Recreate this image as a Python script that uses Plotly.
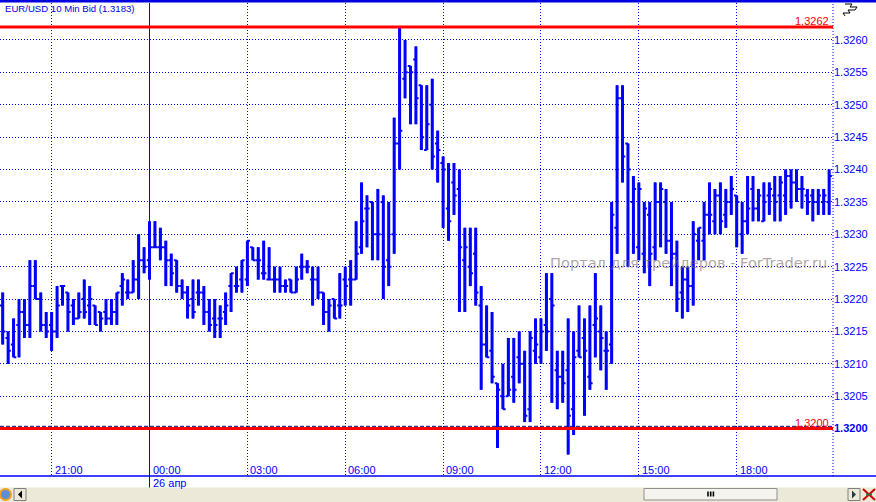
import plotly.graph_objects as go
import pandas as pd

# ---------------- data ----------------
title_text = "EUR/USD 10 Min Bid (1.3183)"
start_time = "2012-04-25 19:30"
bar_minutes = 10

opens = [1.3219,1.3214,1.3213,1.3216,1.3218,1.3216,1.3222,1.3220,1.3216,1.3216,
         1.3215,1.3222,1.3221,1.3219,1.3217,1.3220,1.3219,1.3219,1.3218,1.3218,
         1.3217,1.3218,1.3222,1.3221,1.3221,1.3223,1.3226,1.3226,1.3228,1.3228,
         1.3228,1.3226,1.3226,1.3222,1.3221,1.3220,1.3221,1.3221,1.3218,1.3217,
         1.3217,1.3218,1.3222,1.3222,1.3223,1.3223,1.3228,1.3226,1.3224,1.3223,
         1.3223,1.3223,1.3222,1.3223,1.3221,1.3225,1.3225,1.3223,1.3223,1.3221,
         1.3218,1.3220,1.3219,1.3223,1.3223,1.3223,1.3228,1.3234,1.3235,1.3230,
         1.3235,1.3226,1.3230,1.3244,1.3254,1.3256,1.3257,1.3253,1.3243,1.3250,
         1.3244,1.3241,1.3234,1.3238,1.3237,1.3226,1.3225,1.3227,1.3219,1.3213,
         1.3212,1.3207,1.3205,1.3205,1.3208,1.3211,1.3210,1.3203,1.3212,1.3211,
         1.3216,1.3220,1.3209,1.3208,1.3209,1.3203,1.3212,1.3214,1.3208,1.3216,
         1.3215,1.3212,1.3213,1.3231,1.3251,1.3244,1.3235,1.3228,1.3227,1.3233,
         1.3228,1.3235,1.3235,1.3229,1.3227,1.3221,1.3223,1.3222,1.3229,1.3229,
         1.3233,1.3232,1.3236,1.3233,1.3235,1.3236,1.3230,1.3232,1.3237,1.3234,
         1.3232,1.3236,1.3236,1.3236,1.3236,1.3239,1.3238,1.3237,1.3236,1.3236,
         1.3235,1.3235,1.3235]

highs = [1.3221,1.3215,1.3217,1.3220,1.3220,1.3226,1.3226,1.3221,1.3218,1.3218,
         1.3222,1.3222,1.3221,1.3220,1.3221,1.3223,1.3222,1.3219,1.3218,1.3220,
         1.3220,1.3221,1.3224,1.3223,1.3226,1.3230,1.3228,1.3232,1.3232,1.3231,
         1.3229,1.3227,1.3226,1.3223,1.3222,1.3223,1.3223,1.3222,1.3220,1.3220,
         1.3219,1.3221,1.3224,1.3225,1.3226,1.3229,1.3228,1.3228,1.3229,1.3228,
         1.3225,1.3225,1.3223,1.3223,1.3225,1.3227,1.3226,1.3225,1.3225,1.3221,
         1.3220,1.3220,1.3224,1.3225,1.3226,1.3232,1.3238,1.3236,1.3235,1.3237,
         1.3236,1.3235,1.3248,1.3262,1.3260,1.3256,1.3259,1.3253,1.3253,1.3254,
         1.3246,1.3242,1.3241,1.3241,1.3240,1.3231,1.3231,1.3231,1.3222,1.3219,
         1.3218,1.3207,1.3210,1.3214,1.3214,1.3215,1.3212,1.3215,1.3217,1.3217,
         1.3224,1.3224,1.3212,1.3212,1.3217,1.3215,1.3219,1.3217,1.3219,1.3224,
         1.3219,1.3215,1.3235,1.3253,1.3253,1.3244,1.3239,1.3238,1.3235,1.3235,
         1.3238,1.3238,1.3237,1.3235,1.3229,1.3225,1.3225,1.3232,1.3231,1.3235,
         1.3238,1.3237,1.3238,1.3237,1.3239,1.3236,1.3235,1.3239,1.3239,1.3237,
         1.3238,1.3238,1.3239,1.3239,1.3240,1.3240,1.3240,1.3239,1.3237,1.3237,
         1.3237,1.3237,1.3240]

lows = [1.3213,1.3210,1.3211,1.3211,1.3214,1.3214,1.3220,1.3215,1.3214,1.3212,
        1.3214,1.3219,1.3215,1.3216,1.3217,1.3217,1.3216,1.3216,1.3215,1.3216,
        1.3216,1.3216,1.3219,1.3220,1.3221,1.3220,1.3224,1.3223,1.3228,1.3226,
        1.3222,1.3222,1.3221,1.3220,1.3217,1.3217,1.3219,1.3216,1.3215,1.3214,
        1.3214,1.3216,1.3218,1.3221,1.3221,1.3222,1.3226,1.3223,1.3223,1.3223,
        1.3221,1.3221,1.3221,1.3221,1.3221,1.3223,1.3224,1.3219,1.3220,1.3216,
        1.3215,1.3217,1.3217,1.3219,1.3219,1.3223,1.3227,1.3228,1.3226,1.3226,
        1.3220,1.3222,1.3227,1.3240,1.3251,1.3247,1.3247,1.3243,1.3243,1.3240,
        1.3238,1.3231,1.3229,1.3233,1.3218,1.3218,1.3222,1.3219,1.3206,1.3211,
        1.3207,1.3197,1.3203,1.3205,1.3204,1.3207,1.3201,1.3201,1.3210,1.3210,
        1.3212,1.3204,1.3203,1.3204,1.3196,1.3199,1.3211,1.3202,1.3206,1.3211,
        1.3209,1.3206,1.3210,1.3227,1.3238,1.3225,1.3227,1.3226,1.3224,1.3222,
        1.3226,1.3228,1.3227,1.3222,1.3218,1.3217,1.3218,1.3219,1.3226,1.3226,
        1.3230,1.3230,1.3230,1.3231,1.3233,1.3228,1.3227,1.3230,1.3232,1.3232,
        1.3232,1.3233,1.3232,1.3232,1.3233,1.3234,1.3235,1.3234,1.3233,1.3232,
        1.3233,1.3233,1.3233]

closes = [1.3215,1.3212,1.3211,1.3218,1.3216,1.3222,1.3220,1.3216,1.3215,1.3215,
          1.3219,1.3222,1.3218,1.3217,1.3218,1.3218,1.3220,1.3216,1.3217,1.3217,
          1.3218,1.3221,1.3223,1.3221,1.3223,1.3226,1.3225,1.3228,1.3228,1.3228,
          1.3226,1.3224,1.3222,1.3221,1.3219,1.3218,1.3221,1.3218,1.3216,1.3216,
          1.3217,1.3219,1.3224,1.3222,1.3226,1.3229,1.3226,1.3226,1.3224,1.3223,
          1.3223,1.3222,1.3222,1.3221,1.3223,1.3225,1.3225,1.3223,1.3221,1.3218,
          1.3219,1.3217,1.3219,1.3222,1.3223,1.3227,1.3232,1.3234,1.3230,1.3230,
          1.3225,1.3225,1.3244,1.3246,1.3255,1.3255,1.3251,1.3245,1.3247,1.3242,
          1.3243,1.3240,1.3232,1.3236,1.3228,1.3228,1.3224,1.3221,1.3213,1.3211,
          1.3208,1.3206,1.3203,1.3206,1.3206,1.3210,1.3202,1.3214,1.3213,1.3215,
          1.3215,1.3219,1.3208,1.3207,1.3202,1.3211,1.3211,1.3212,1.3207,1.3217,
          1.3214,1.3212,1.3233,1.3251,1.3242,1.3240,1.3237,1.3237,1.3234,1.3227,
          1.3235,1.3237,1.3229,1.3227,1.3220,1.3223,1.3222,1.3230,1.3231,1.3233,
          1.3233,1.3236,1.3232,1.3235,1.3237,1.3235,1.3232,1.3234,1.3234,1.3236,
          1.3235,1.3237,1.3235,1.3238,1.3239,1.3238,1.3237,1.3237,1.3235,1.3235,
          1.3236,1.3236,1.3239]

x_tick_times = ["2012-04-25 21:00", "2012-04-26 00:00", "2012-04-26 03:00",
                "2012-04-26 06:00", "2012-04-26 09:00", "2012-04-26 12:00",
                "2012-04-26 15:00", "2012-04-26 18:00"]
x_tick_labels = ["21:00", "00:00", "03:00", "06:00", "09:00", "12:00", "15:00", "18:00"]
day_start = "2012-04-26 00:00"
day_label = "26 апр"

y_ticks = [1.3200, 1.3205, 1.3210, 1.3215, 1.3220, 1.3225, 1.3230,
           1.3235, 1.3240, 1.3245, 1.3250, 1.3255, 1.3260]
y_tick_labels = ["<b>1.3200</b>", "1.3205", "1.3210", "1.3215", "1.3220", "1.3225",
                 "1.3230", "1.3235", "1.3240", "1.3245", "1.3250", "1.3255", "1.3260"]

level_values = [1.3262, 1.3200]
level_labels = ["1.3262", "1.3200"]

watermark_text = "Портал для трейдеров - ForTrader.ru"

x_range = ["2012-04-25 19:25:02", "2012-04-26 20:57:06"]
y_range = [1.319268, 1.326571]

times = pd.date_range(start_time, periods=len(opens), freq=f"{bar_minutes}min")

# ---------------- styling ----------------
W, H = 876, 502
PL, PT, PW, PH = 0, 3, 833, 473
BLUE = "#0000FF"
RED = "#FF0000"
FONT = "Liberation Sans, Arial, sans-serif"
DOT = "1px,2px"


def px(xp):
    return (xp - PL) / PW


def py(yp):
    return (PT + PH - yp) / PH


fig = go.Figure()
# ticks (open/close) + thin verticals
fig.add_trace(go.Ohlc(x=times, open=opens, high=highs, low=lows, close=closes,
                      increasing=dict(line=dict(color=BLUE, width=2)),
                      decreasing=dict(line=dict(color=BLUE, width=2)),
                      tickwidth=0.5, hoverinfo="skip", showlegend=False))
# thicker high-low lines
fig.add_trace(go.Ohlc(x=times, open=opens, high=highs, low=lows, close=closes,
                      increasing=dict(line=dict(color=BLUE, width=3)),
                      decreasing=dict(line=dict(color=BLUE, width=3)),
                      tickwidth=0, hoverinfo="skip", showlegend=False))

shapes = []
# day separator
shapes.append(dict(type="line", xref="x", yref="paper", x0=day_start, x1=day_start,
                   y0=py(489), y1=1, line=dict(color=BLUE, width=1), layer="below"))
# right border dotted line
shapes.append(dict(type="line", xref="paper", yref="paper", x0=1, x1=1, y0=0, y1=1,
                   line=dict(color=BLUE, width=1, dash=DOT)))
# level lines
for lv in level_values:
    shapes.append(dict(type="line", xref="paper", yref="y", x0=0, x1=1, y0=lv, y1=lv,
                       line=dict(color=RED, width=3), layer="above"))
# dashed navy line hugging the lower level
shapes.append(dict(type="line", xref="paper", yref="paper", x0=0, x1=1,
                   y0=py(426.3), y1=py(426.3),
                   line=dict(color="#000080", width=1, dash="4px,2px"), layer="above"))
# top frame line
shapes.append(dict(type="line", xref="paper", yref="paper", x0=px(0), x1=px(876),
                   y0=py(1), y1=py(1), line=dict(color="#0000E0", width=3)))
# bottom axis line
shapes.append(dict(type="line", xref="paper", yref="paper", x0=px(0), x1=px(876),
                   y0=py(476), y1=py(476), line=dict(color=BLUE, width=1.5)))
# scrollbar strip
shapes.append(dict(type="rect", xref="paper", yref="paper", x0=px(0), x1=px(876),
                   y0=py(502), y1=py(487.5), fillcolor="#ECE9D8", line=dict(width=0)))
# thumb
shapes.append(dict(type="rect", xref="paper", yref="paper", x0=px(644), x1=px(777),
                   y0=py(500), y1=py(488.5), fillcolor="#F4F3EE",
                   line=dict(color="#8E8F8F", width=1)))
for gx in (708, 710.7, 713.4):
    shapes.append(dict(type="line", xref="paper", yref="paper", x0=px(gx), x1=px(gx),
                       y0=py(496.5), y1=py(491.5), line=dict(color="#000000", width=1.6)))
# left / right buttons
for bx0, bx1 in ((14, 26), (848, 860)):
    shapes.append(dict(type="rect", xref="paper", yref="paper", x0=px(bx0), x1=px(bx1),
                       y0=py(500.5), y1=py(488.5), fillcolor="#ECE9D8",
                       line=dict(color="#7F7F7F", width=1)))


def tri(points, color):
    path = "M " + " L ".join(f"{px(a)},{py(b)}" for a, b in points) + " Z"
    return dict(type="path", xref="paper", yref="paper", path=path,
                fillcolor=color, line=dict(width=0))


shapes.append(tri([(22, 490.5), (22, 498.5), (18, 494.5)], "#000000"))
shapes.append(tri([(852, 490.5), (852, 498.5), (856, 494.5)], "#263A48"))
# close icon
shapes.append(dict(type="line", xref="paper", yref="paper", x0=px(863), x1=px(875),
                   y0=py(489), y1=py(500), line=dict(color="#CC0000", width=2)))
shapes.append(dict(type="line", xref="paper", yref="paper", x0=px(863), x1=px(875),
                   y0=py(500), y1=py(489), line=dict(color="#CC0000", width=2)))
shapes.append(dict(type="line", xref="paper", yref="paper", x0=px(866), x1=px(872),
                   y0=py(494.5), y1=py(494.5), line=dict(color="#3D6E3D", width=2)))
# globe icon
shapes.append(dict(type="circle", xref="paper", yref="paper", x0=px(0), x1=px(11),
                   y0=py(500), y1=py(489), fillcolor="#5A8FD8",
                   line=dict(color="#F0A020", width=2)))
# small toolbar glyph at top right
glyph = [(845, 4), (852, 4), (850, 7), (857, 7), (855, 10), (848, 10), (850, 13),
         (843, 13), (845, 16)]
shapes.append(dict(type="path", xref="paper", yref="paper",
                   path="M " + " L ".join(f"{px(a)},{py(b)}" for a, b in glyph),
                   line=dict(color="#000000", width=1)))

annotations = []
annotations.append(dict(text=title_text, xref="paper", yref="paper", x=px(3), y=py(8.5),
                        xanchor="left", yanchor="middle", showarrow=False,
                        font=dict(family=FONT, size=9.6, color="#0000E6")))
for t, lab in zip(x_tick_times, x_tick_labels):
    annotations.append(dict(text=lab, xref="x", yref="paper", x=t, y=py(469.5),
                            xanchor="left", yanchor="middle", xshift=1, showarrow=False,
                            font=dict(family=FONT, size=11, color=BLUE)))
annotations.append(dict(text=day_label, xref="x", yref="paper", x=day_start, y=py(483),
                        xanchor="left", yanchor="middle", xshift=1, showarrow=False,
                        font=dict(family=FONT, size=11, color=BLUE)))
for lv, lab in zip(level_values, level_labels):
    annotations.append(dict(text=lab, xref="paper", yref="y", x=px(831), y=lv,
                            xanchor="right", yanchor="bottom", yshift=-2, showarrow=False,
                            font=dict(family=FONT, size=11, color=RED)))
annotations.append(dict(text=watermark_text, xref="paper", yref="paper", x=px(548),
                        y=py(262), xanchor="left", yanchor="middle", showarrow=False,
                        font=dict(family="DejaVu Sans, sans-serif", size=14.6,
                                  color="rgba(125,105,105,0.6)")))

fig.update_layout(
    width=W, height=H,
    margin=dict(l=PL, r=W - PL - PW, t=PT, b=H - PT - PH, pad=0),
    paper_bgcolor="#FFFFFF", plot_bgcolor="#FFFFFF",
    showlegend=False,
    shapes=shapes, annotations=annotations,
    xaxis=dict(type="date", range=x_range, rangeslider=dict(visible=False),
               tickvals=x_tick_times, showticklabels=False, ticks="",
               showgrid=True, gridcolor=BLUE, gridwidth=1, griddash=DOT,
               zeroline=False, showline=False, fixedrange=True),
    yaxis=dict(side="right", range=y_range, tickvals=y_ticks, ticktext=y_tick_labels,
               ticks="", tickfont=dict(family=FONT, size=11, color=BLUE),
               showgrid=True, gridcolor=BLUE, gridwidth=1, griddash=DOT,
               zeroline=False, showline=False, fixedrange=True),
)

fig.write_html(
    "out.html",
    config={"displayModeBar": False},
    post_script="document.body.style.margin='0';document.body.style.overflow='hidden';",
)
